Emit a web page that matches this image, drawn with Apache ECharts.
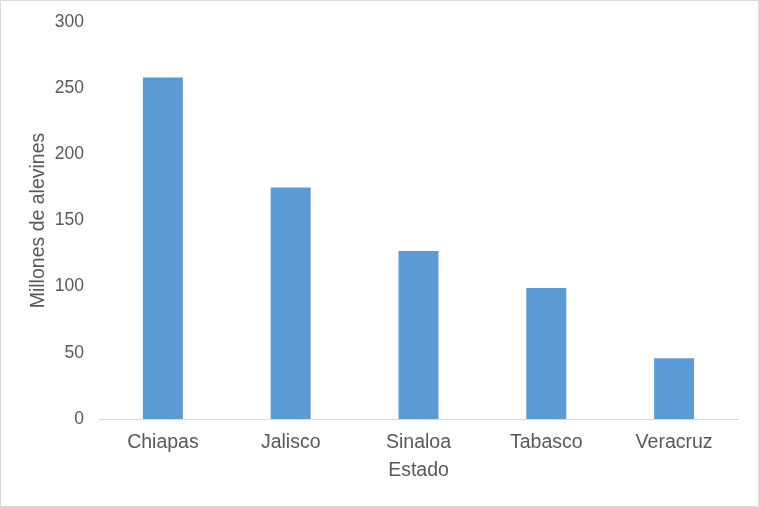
<!DOCTYPE html>
<html lang="es">
<head>
    <meta charset="UTF-8">
    <title>Alevines por estado</title>
    <script type="text/javascript" src="https://cdn.jsdelivr.net/npm/echarts@6/dist/echarts.min.js"></script>
    <style>
        html, body { margin: 0; padding: 0; background: #fff; }
    </style>
</head>
<body>
<div id="chart1" style="width:759px;height:507px"></div>
<script type="text/javascript">
    // datos
    var estados = ['Chiapas', 'Jalisco', 'Sinaloa', 'Tabasco', 'Veracruz'];
    var alevines = [258, 175, 127, 99, 46];

    var myChart = echarts.init(document.getElementById('chart1'));
    var fuente = 'Liberation Sans, Arial, sans-serif';
    var option = {
        animation: false,
        graphic: [{
            type: 'rect',
            shape: {x: 0.5, y: 0.5, width: 758, height: 506},
            style: {fill: 'none', stroke: '#d9d9d9', lineWidth: 1}
        }],
        grid: {
            left: 99,
            right: 21,
            top: 22,
            bottom: 88
        },
        xAxis: {
            type: 'category',
            data: estados,
            name: 'Estado',
            nameLocation: 'middle',
            nameGap: 42,
            nameMoveOverlap: false,
            nameTextStyle: {color: '#595959', fontSize: 19.5, fontFamily: fuente},
            axisTick: {show: false},
            axisLine: {lineStyle: {color: '#d9d9d9'}},
            axisLabel: {color: '#595959', fontSize: 19.5, fontFamily: fuente, margin: 14}
        },
        yAxis: {
            type: 'value',
            min: 0,
            max: 300,
            interval: 50,
            name: 'Millones de alevines',
            nameLocation: 'middle',
            nameGap: 50,
            nameMoveOverlap: false,
            nameTextStyle: {color: '#595959', fontSize: 19.5, fontFamily: fuente},
            axisLine: {show: false},
            axisTick: {show: false},
            splitLine: {show: false},
            axisLabel: {color: '#595959', fontSize: 17.5, fontFamily: fuente, margin: 15}
        },
        series: [{
            type: 'bar',
            data: alevines,
            barWidth: 40,
            itemStyle: {color: '#5b9bd5'}
        }]
    };
    myChart.setOption(option);
</script>
</body>
</html>
